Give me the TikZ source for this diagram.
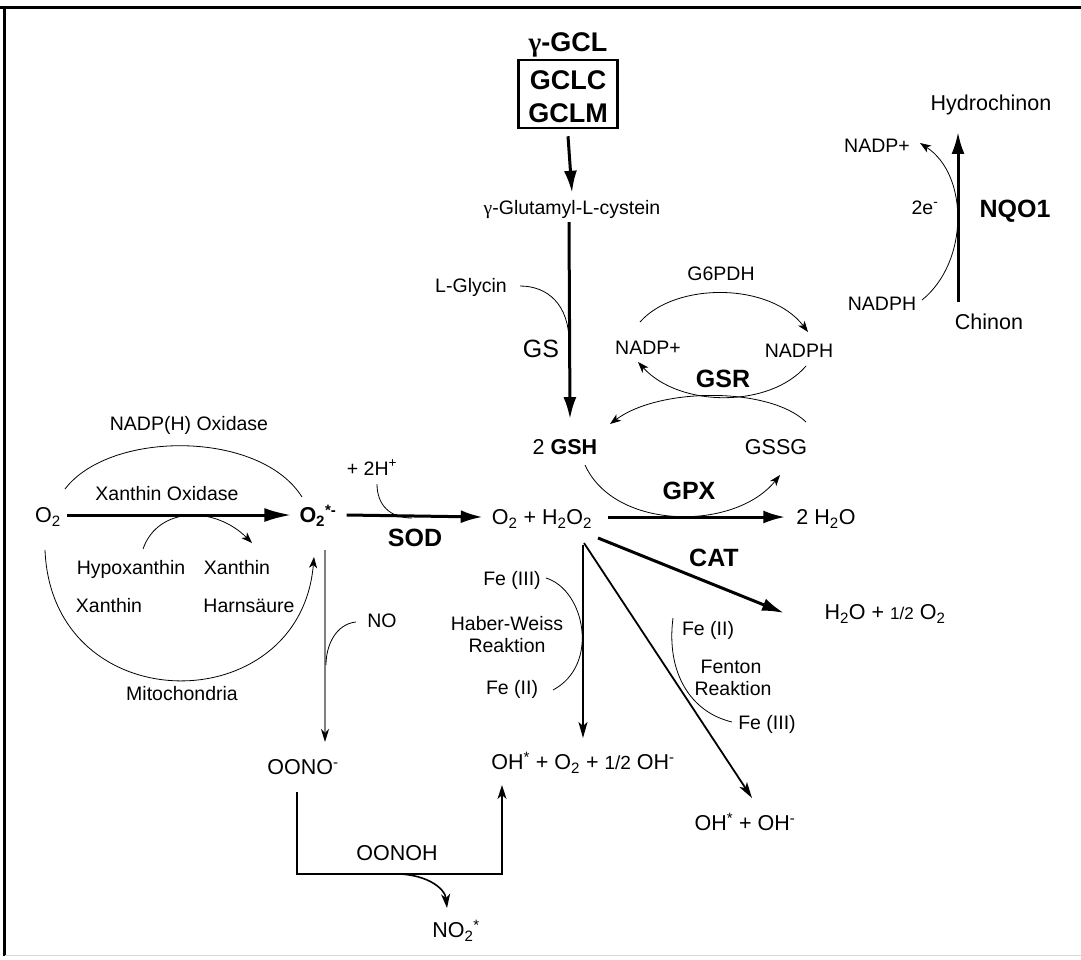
\documentclass[tikz,border=0pt]{standalone}
\usepackage{fontspec}
\setmainfont{Liberation Sans}
\newfontfamily\gamfont{Liberation Serif}
\newcommand{\gam}{{\gamfont γ}}
\usetikzlibrary{arrows.meta}
\begin{document}
\begin{tikzpicture}[x=1pt,y=-1pt,
  lbl/.style={font=\fontsize{19.5}{22}\selectfont, inner sep=0pt, text height=14pt, text depth=0pt},
  mid/.style={font=\fontsize{21.5}{24}\selectfont, inner sep=0pt, text height=15.4pt, text depth=0pt},
  enz/.style={font=\fontsize{25}{28}\selectfont\bfseries, inner sep=0pt, text height=18pt, text depth=0pt},
  big/.style={font=\fontsize{27}{30}\selectfont\bfseries, inner sep=0pt, text height=19.3pt, text depth=0pt},
  thickarr/.style={line width=3pt, -{Latex[length=22pt,width=13pt]}},
  medarr/.style={line width=1.8pt, -{Stealth[length=16pt,width=9pt,inset=4pt]}},
  thinarr/.style={line width=0.8pt, -{Stealth[length=11pt,width=8pt,inset=3pt]}},
  thinline/.style={line width=0.8pt},
]
\useasboundingbox (0,0) rectangle (1081,959);
\fill[white] (0,0) rectangle (1081,959);
% frame
\draw[line width=3pt] (0,7) -- (1081,7);
\draw[line width=3pt] (4,5.5) -- (4,956);
\draw[black!15, line width=1pt] (5,955.5) -- (1081,955.5);

% ---- glutathione synthesis
\node[big] (gcl) at (568,42) {\gam-GCL};
\node[draw, line width=2.5pt, minimum width=99pt, minimum height=68pt, inner sep=0pt] (box) at (568,94) {};
\node[big] (gclc) at (568,80) {GCLC};
\node[big] (gclm) at (568,113) {GCLM};
\node[lbl] (glut) at (572,207) {\gam-Glutamyl-L-cystein};
\node[lbl] (glycin) at (471,285) {L-Glycin};
\node[font=\fontsize{25}{28}\selectfont, inner sep=0pt, text height=18pt, text depth=0pt] (gs) at (541,348) {GS};
\node[mid] (gsh) at (565,447) {2 \textbf{GSH}};
\node[mid] (gssg) at (776,447) {GSSG};
\node[lbl] (g6pdh) at (721,273) {G6PDH};
\node[lbl] (nadpp) at (648,347) {NADP+};
\node[lbl] (nadph) at (799,350) {NADPH};
\node[enz] (gsr) at (723,378) {GSR};
\node[enz] (gpx) at (689,490) {GPX};

\draw[thickarr] ([yshift=-7pt]box.south) -- ([yshift=7pt]glut.north);
\draw[thickarr] ([xshift=-3pt,yshift=-8pt]glut.south) -- ([xshift=5pt,yshift=20pt]gsh.north);
\coordinate (glyA) at (520,286);
\coordinate (glyB) at (569,342);
\draw[thinline] (glyA) .. controls (548,286) and (569,305) .. (glyB);
\coordinate (g6A) at (640,322);
\coordinate (g6B) at (808,332);
\draw[thinarr] (g6A) .. controls (675,282) and (770,282) .. (g6B);
\coordinate (gsrA) at (806,366);
\coordinate (gsrB) at (638,362);
\draw[thinarr] (gsrA) .. controls (770,408) and (680,408) .. (gsrB);
\coordinate (gssA) at (806,422);
\coordinate (gssB) at (610,424);
\draw[thinarr] (gssA) .. controls (770,387) and (660,387) .. (gssB);
\coordinate (gpxA) at (585,465);
\coordinate (gpxB) at (780,475);
\draw[thinarr] (gpxA) .. controls (615,531) and (735,531) .. (gpxB);

% ---- NQO1
\node[mid] (hydro) at (991,103) {Hydrochinon};
\node[mid] (chinon) at (989,322) {Chinon};
\node[lbl] (nadpp2) at (877,145) {NADP+};
\node[lbl] (nadph2) at (882,303) {NADPH};
\node[lbl] (twoe) at (925,207) {2e\textsuperscript{-}};
\node[enz] (nqo) at (1015,208) {NQO1};
\draw[thickarr] ([xshift=-31pt,yshift=12pt]chinon.north) -- ([xshift=-33pt,yshift=-21pt]hydro.south);
\coordinate (nqA) at (922,300);
\coordinate (nqB) at (920,143);
\draw[thinarr] (nqA) .. controls (969,262) and (969,175) .. (nqB);

% ---- superoxide
\node[mid] (o2) at (48,515) {O\textsubscript{2}};
\node[mid, font=\fontsize{21.5}{24}\selectfont\bfseries] (o2r) at (318,515) {O\textsubscript{2}\textsuperscript{*-}};
\node[lbl] (xo) at (167,493) {Xanthin Oxidase};
\node[lbl] (nox) at (189,423) {NADP(H) Oxidase};
\node[lbl] (hypox) at (131,567) {Hypoxanthin};
\node[lbl] (xan1) at (237,567) {Xanthin};
\node[lbl] (xan2) at (109,605) {Xanthin};
\node[lbl] (harn) at (249,605) {Harnsäure};
\node[lbl] (mito) at (182,693) {Mitochondria};
\draw[line width=3pt, -{Latex[length=27pt,width=14pt]}] ([xshift=6pt]o2.east) -- ([xshift=-8pt]o2r.west);
\coordinate (noxA) at (65,489);
\coordinate (noxB) at (302,497);
\draw[thinline] (noxA) .. controls (110,430) and (260,430) .. (noxB);
\coordinate (hxA) at (143,549);
\coordinate (hxB) at (252,543);
\draw[thinarr] (hxA) .. controls (158,506) and (215,506) .. (hxB);
\coordinate (miA) at (45,550);
\coordinate (miB) at (314,557);
\draw[thinarr] (miA) .. controls (52,722) and (300,722) .. (miB);

% ---- SOD / H2O2
\node[mid] (h2o2) at (542,517) {O\textsubscript{2} + H\textsubscript{2}O\textsubscript{2}};
\node[enz] (sod) at (415,537) {SOD};
\node[lbl] (hplus) at (372,468) {+ 2H\textsuperscript{+}};
\node[mid] (h2o) at (826,517) {2 H\textsubscript{2}O};
\node[enz] (cat) at (714,557) {CAT};
\node[mid] (h2oh) at (885,612) {H\textsubscript{2}O + {\fontsize{17}{17}\selectfont 1/2} O\textsubscript{2}};
\draw[thickarr] ([xshift=10pt]o2r.east) -- ([xshift=-9pt]h2o2.west);
\coordinate (hpA) at (377,484);
\coordinate (hpB) at (412,518);
\draw[thinline] (hpA) .. controls (377,505) and (390,518) .. (hpB);
\draw[thickarr] ([xshift=16pt]h2o2.east) -- ([xshift=-11pt]h2o.west);
\coordinate (catA) at (598,538);
\coordinate (catB) at (784,613);
\draw[thickarr] (catA) -- (catB);

% ---- peroxynitrite
\node[lbl] (no) at (382,620) {NO};
\node[mid] (oono) at (303,767) {OONO\textsuperscript{-}};
\node[mid] (oonoh) at (397,853) {OONOH};
\node[mid] (no2) at (456,930) {NO\textsubscript{2}\textsuperscript{*}};
\coordinate (vA) at (325,550);
\coordinate (vB) at (325,742);
\draw[line width=1.4pt, gray, -{Stealth[length=13pt,width=8pt,inset=4pt,fill=black,color=black]}] (vA) -- (vB);
\coordinate (noA) at (356,622);
\coordinate (noB) at (326,665);
\draw[thinline] (noA) .. controls (336,624) and (326,645) .. (noB);
\node[mid] (ohmix) at (583,762) {OH\textsuperscript{*} + O\textsubscript{2} + {\fontsize{19}{19}\selectfont 1/2} OH\textsuperscript{-}};
\coordinate (onA) at (297,792);
\coordinate (onC1) at (297,874);
\coordinate (onC2) at (502,874);
\coordinate (onB) at (502,785);
\draw[line width=1.6pt, -{Stealth[length=14pt,width=9pt,inset=4pt]}] (onA) -- (onC1) -- (onC2) -- (onB);
\coordinate (n2A) at (388,874);
\coordinate (n2B) at (447,908);
\draw[line width=1.6pt, -{Stealth[length=14pt,width=9pt,inset=4pt]}] (n2A) .. controls (425,872) and (445,888) .. (n2B);

% ---- Haber-Weiss / Fenton
\node[lbl] (fe3a) at (512,578) {Fe (III)};
\node[lbl] (hw1) at (507,623) {Haber-Weiss};
\node[lbl] (hw2) at (507,645) {Reaktion};
\node[lbl] (fe2a) at (512,687) {Fe (II)};
\node[lbl] (fe2b) at (708,628) {Fe (II)};
\node[lbl] (fen1) at (731,666) {Fenton};
\node[lbl] (fen2) at (733,688) {Reaktion};
\node[lbl] (fe3b) at (767,722) {Fe (III)};
\node[mid] (ohoh) at (745,823) {OH\textsuperscript{*} + OH\textsuperscript{-}};
\coordinate (hvA) at (583,545);
\coordinate (hvB) at (583,738);
\draw[medarr] (hvA) -- (hvB);
\coordinate (hwA) at (546,578);
\coordinate (hwB) at (553,690);
\draw[thinline] (hwA) .. controls (585,590) and (600,665) .. (hwB);
\coordinate (fdA) at (584,543);
\coordinate (fdB) at (752,798);
\draw[medarr] (fdA) -- (fdB);
\coordinate (fnA) at (673,618);
\coordinate (fnB) at (732,722);
\draw[thinline] (fnA) .. controls (666,672) and (690,712) .. (fnB);
\end{tikzpicture}
\end{document}
